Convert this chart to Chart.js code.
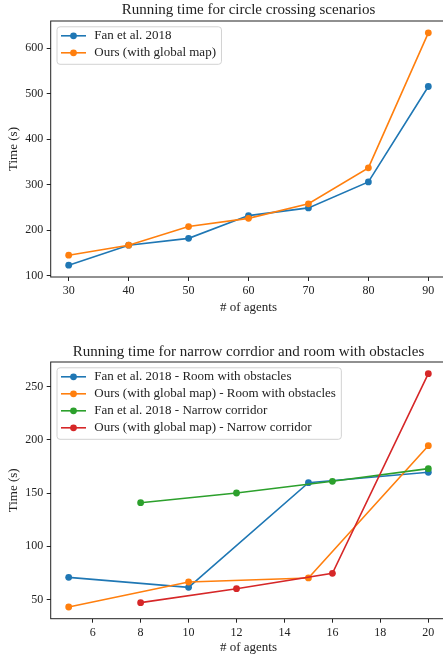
<!DOCTYPE html>
<html>
<head>
<meta charset="utf-8">
<script src="https://cdn.jsdelivr.net/npm/chart.js@4"></script>
<style>
html, body { margin: 0; padding: 0; background: #fff; overflow: hidden; width: 443px; height: 656px; }
canvas { position: absolute; left: 0; }
#circleChart { top: 0; }
#mixedChart { top: 330px; }
.title {
    position: absolute; left: 50.7px; width: 395.6px; height: 18px; line-height: 18px;
    text-align: center; white-space: nowrap; color: #222;
    font-family: 'Liberation Serif', serif; font-size: 15px;
}
</style>
</head>
<body>
<canvas id="circleChart" width="497" height="322"></canvas>
<canvas id="mixedChart" width="497" height="326"></canvas>
<div class="title" style="top:0px">Running time for circle crossing scenarios</div>
<div class="title" style="top:341.7px">Running time for narrow corrdior and room with obstacles</div>
<script>
// circle crossing
const circleAgents = [30, 40, 50, 60, 70, 80, 90];
const circleFan = [123, 167, 182, 232, 249, 306, 516];
const circleOurs = [145, 167, 208, 226, 258, 337, 634];
const circleXTicks = [30, 40, 50, 60, 70, 80, 90];
const circleYTicks = [100, 200, 300, 400, 500, 600];

// narrow corridor + room with obstacles
const roomAgents = [5, 10, 15, 20];
const roomFan = [70.7, 61.3, 159.7, 169.5];
const roomOurs = [42.8, 66.3, 70.1, 194.5];
const corridorAgents = [8, 12, 16, 20];
const corridorFan = [140.9, 150, 161, 172.9];
const corridorOurs = [46.9, 60, 74.5, 262.2];
const mixedXTicks = [6, 8, 10, 12, 14, 16, 18, 20];
const mixedYTicks = [50, 100, 150, 200, 250];

const BLUE = "#1f77b4", ORANGE = "#ff7f0e", GREEN = "#2ca02c", RED = "#d62728";
const FONT = "'Liberation Serif', serif";
const INK = "#222";

function pts(xs, ys) {
    return xs.map((x, i) => ({ x: x, y: ys[i] }));
}

function series(label, xs, ys, color, order) {
    return {
        label: label,
        data: pts(xs, ys),
        borderColor: color,
        backgroundColor: color,
        borderWidth: 1.6,
        pointRadius: 3.4,
        pointBorderWidth: 0,
        pointBackgroundColor: color,
        tension: 0,
        order: order
    };
}

// box around the plot area (top/right spines too)
const frame = {
    id: "frame",
    afterDraw(chart) {
        const { ctx, chartArea: a } = chart;
        ctx.save();
        ctx.strokeStyle = INK;
        ctx.lineWidth = 1;
        ctx.strokeRect(a.left, a.top, a.right - a.left, a.bottom - a.top);
        ctx.restore();
    }
};

// matplotlib-like legend in the upper left corner of the axes
const innerLegend = {
    id: "innerLegend",
    afterDraw(chart) {
        const { ctx, chartArea } = chart;
        const sets = chart.data.datasets;
        ctx.save();
        ctx.font = "13px " + FONT;
        const maxW = Math.max(...sets.map(d => ctx.measureText(d.label).width));
        const x0 = chartArea.left + 6.3, y0 = chartArea.top + 5.8;
        const w = 37.3 + maxW + 5.5, h = 9 + 17 * (sets.length - 1) + 11.5;
        ctx.beginPath();
        ctx.roundRect(x0, y0, w, h, 3);
        ctx.fillStyle = "rgba(255,255,255,0.8)";
        ctx.fill();
        ctx.strokeStyle = "#d2d2d2";
        ctx.lineWidth = 1;
        ctx.stroke();
        sets.forEach((d, i) => {
            const y = y0 + 9 + 17 * i;
            ctx.strokeStyle = d.borderColor;
            ctx.lineWidth = 1.6;
            ctx.beginPath();
            ctx.moveTo(x0 + 4, y);
            ctx.lineTo(x0 + 29, y);
            ctx.stroke();
            ctx.fillStyle = d.borderColor;
            ctx.beginPath();
            ctx.arc(x0 + 16.5, y, 3.4, 0, Math.PI * 2);
            ctx.fill();
            ctx.fillStyle = INK;
            ctx.textBaseline = "middle";
            ctx.fillText(d.label, x0 + 37.3, y);
        });
        ctx.restore();
    }
};

function makeChart(id, cfg) {
    const tickFont = { family: FONT, size: 12 };
    return new Chart(document.getElementById(id), {
        type: "line",
        data: { datasets: cfg.datasets },
        plugins: [frame, innerLegend],
        options: {
            responsive: false,
            animation: false,
            devicePixelRatio: 1,
            layout: { padding: { left: 0, right: 50.7, top: cfg.topPad, bottom: 0 } },
            plugins: {
                legend: { display: false },
                tooltip: { enabled: false },
                title: { display: false }
            },
            scales: {
                x: {
                    type: "linear",
                    min: cfg.xMin,
                    max: cfg.xMax,
                    afterBuildTicks: s => { s.ticks = cfg.xTicks.map(v => ({ value: v })); },
                    afterFit: s => { s.height = cfg.xHeight; },
                    grid: { drawOnChartArea: false, drawTicks: true, tickLength: 4, color: INK },
                    border: { display: false },
                    ticks: { color: INK, font: tickFont, padding: 3, maxRotation: 0 },
                    title: {
                        display: true, text: "# of agents", color: INK,
                        font: { family: FONT, size: 13, lineHeight: 1.2 },
                        padding: { top: 0, bottom: cfg.xTitlePad }
                    }
                },
                y: {
                    type: "linear",
                    min: cfg.yMin,
                    max: cfg.yMax,
                    afterBuildTicks: s => { s.ticks = cfg.yTicks.map(v => ({ value: v })); },
                    afterFit: s => { s.width = 50.7; },
                    grid: { drawOnChartArea: false, drawTicks: true, tickLength: 4, color: INK },
                    border: { display: false },
                    ticks: { color: INK, font: tickFont, padding: 3.4 },
                    title: {
                        display: true, text: "Time (s)", color: INK,
                        font: { family: FONT, size: 13, lineHeight: 1.2 },
                        padding: { top: 6.2, bottom: 0 }
                    }
                }
            }
        }
    });
}

makeChart("circleChart", {
    topPad: 21,
    datasets: [
        series("Fan et al. 2018", circleAgents, circleFan, BLUE, 2),
        series("Ours (with global map)", circleAgents, circleOurs, ORANGE, 1)
    ],
    xMin: 27, xMax: 93, yMin: 97, yMax: 660,
    xTicks: circleXTicks, yTicks: circleYTicks,
    xHeight: 45, xTitlePad: 6.8
});

makeChart("mixedChart", {
    topPad: 32,
    datasets: [
        series("Fan et al. 2018 - Room with obstacles", roomAgents, roomFan, BLUE, 4),
        series("Ours (with global map) - Room with obstacles", roomAgents, roomOurs, ORANGE, 3),
        series("Fan et al. 2018 - Narrow corridor", corridorAgents, corridorFan, GREEN, 2),
        series("Ours (with global map) - Narrow corridor", corridorAgents, corridorOurs, RED, 1)
    ],
    xMin: 4.25, xMax: 20.75, yMin: 31.8, yMax: 273.2,
    xTicks: mixedXTicks, yTicks: mixedYTicks,
    xHeight: 37.3, xTitlePad: 0.5
});
</script>
</body>
</html>
